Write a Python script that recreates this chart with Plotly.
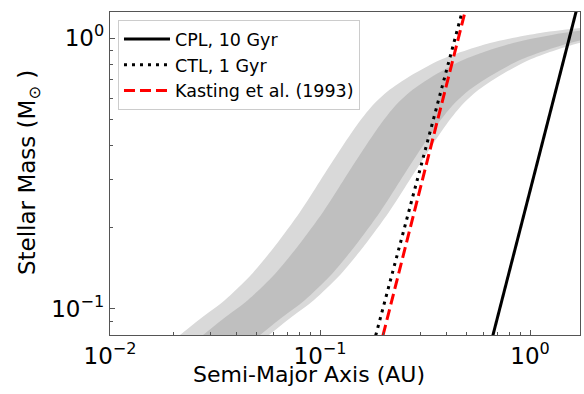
import plotly.graph_objects as go

# ---- data ----
# Habitable-zone band boundaries, stellar mass (Msun) shared by all four edges
hz_mass = [0.0737, 0.0802, 0.0919, 0.1080, 0.1323, 0.1708, 0.2280, 0.2967, 0.3861,
           0.4775, 0.5611, 0.6373, 0.7118, 0.8295, 0.9584, 1.0434, 1.0887, 1.1168]
# semi-major axis (AU) of each edge
opt_inner_a = [0.01868, 0.02154, 0.02683, 0.03529, 0.04642, 0.06105, 0.08031, 0.1000, 0.1245,
               0.1500, 0.1769, 0.2108, 0.2596, 0.3728, 0.6450, 1.1159, 1.7302, 2.4044]
con_inner_a = [0.02404, 0.02773, 0.03452, 0.04541, 0.05973, 0.07856, 0.1034, 0.1287, 0.1602,
               0.1931, 0.2276, 0.2713, 0.3340, 0.4797, 0.8301, 1.4362, 2.2263, 3.0937]
con_outer_a = [0.04491, 0.05179, 0.06449, 0.08483, 0.1116, 0.1468, 0.1931, 0.2404, 0.2994,
               0.3606, 0.4252, 0.5067, 0.6242, 0.8962, 1.5505, 2.6827, 4.1591, 5.7797]
opt_outer_a = [0.04957, 0.05716, 0.07117, 0.09363, 0.1232, 0.1620, 0.2131, 0.2654, 0.3304,
               0.3981, 0.4693, 0.5593, 0.6889, 0.9891, 1.7113, 2.9608, 4.5904, 6.3790]

# Tidal-locking radii
cpl_a = [0.637, 1.72]
cpl_m = [0.07, 1.40]
ctl_a = [0.176, 0.494]
ctl_m = [0.07, 1.40]
kasting_a = [0.191, 0.509]
kasting_m = [0.07, 1.40]

series_names = ["CPL, 10 Gyr", "CTL, 1 Gyr", "Kasting et al. (1993)"]

x_tickvals = [0.01, 0.1, 1]
x_ticktext = ["10<sup>\u22122</sup>", "10<sup>\u22121</sup>", "10<sup>0</sup>"]
y_tickvals = [0.1, 1]
y_ticktext = ["10<sup>\u22121</sup>", "10<sup>0</sup>"]
x_minor = [k * 10 ** e for e in (-2, -1, 0) for k in range(2, 10)]
y_minor = [k * 10 ** e for e in (-2, -1, 0) for k in range(2, 10)]

FONT = "DejaVu Sans"

fig = go.Figure()

# light (optimistic) band
fig.add_trace(go.Scatter(
    x=opt_inner_a + opt_outer_a[::-1], y=hz_mass + hz_mass[::-1],
    fill="toself", fillcolor="#d9d9d9", line=dict(width=0, shape="spline", smoothing=0.8),
    mode="lines", showlegend=False, hoverinfo="skip"))
# dark (conservative) band
fig.add_trace(go.Scatter(
    x=con_inner_a + con_outer_a[::-1], y=hz_mass + hz_mass[::-1],
    fill="toself", fillcolor="#bfbfbf", line=dict(width=0, shape="spline", smoothing=0.8),
    mode="lines", showlegend=False, hoverinfo="skip"))

fig.add_trace(go.Scatter(x=cpl_a, y=cpl_m, mode="lines", name=series_names[0],
                         line=dict(color="black", width=3)))
fig.add_trace(go.Scatter(x=ctl_a, y=ctl_m, mode="lines", name=series_names[1],
                         line=dict(color="black", width=3, dash="3px,5px")))
fig.add_trace(go.Scatter(x=kasting_a, y=kasting_m, mode="lines", name=series_names[2],
                         line=dict(color="red", width=3, dash="11px,5px")))

axis_common = dict(
    showgrid=False, zeroline=False, showline=True, mirror=True,
    linecolor="#555555", linewidth=1.3,
    ticks="inside", ticklen=5, tickwidth=1, tickcolor="#555555",
    tickfont=dict(family=FONT, size=23, color="black"),
)

fig.update_xaxes(type="log", range=[-2, 0.238], tickmode="array",
                 tickvals=x_tickvals, ticktext=x_ticktext,
                 minor=dict(tickmode="array", tickvals=x_minor, ticks="inside",
                            ticklen=3, tickcolor="#555555", showgrid=False),
                 **axis_common)
fig.update_yaxes(type="log", range=[-1.096, 0.096], tickmode="array",
                 tickvals=y_tickvals, ticktext=y_ticktext,
                 minor=dict(tickmode="array", tickvals=y_minor, ticks="inside",
                            ticklen=3, tickcolor="#555555", showgrid=False),
                 **axis_common)

fig.add_annotation(text="Semi-Major Axis (AU)", xref="paper", yref="paper",
                   x=0.4234, y=-0.123, xanchor="center", yanchor="middle",
                   showarrow=False, font=dict(family=FONT, size=22, color="black"))
fig.add_annotation(text="Stellar Mass (M<sub>\u2299</sub> )", xref="paper", yref="paper",
                   x=-0.1723, y=0.5015, xanchor="center", yanchor="middle",
                   textangle=-90, showarrow=False,
                   font=dict(family=FONT, size=23, color="black"))

fig.update_layout(
    width=584, height=394,
    margin=dict(l=110, r=4, t=12, b=59),
    paper_bgcolor="white", plot_bgcolor="white",
    font=dict(family=FONT, color="black"),
    legend=dict(x=0.017, y=0.975, xanchor="left", yanchor="top",
                bgcolor="rgba(255,255,255,0.85)", bordercolor="#cccccc", borderwidth=1,
                font=dict(family=FONT, size=17.5, color="black"), itemwidth=46),
)

fig.write_html("out.html")
